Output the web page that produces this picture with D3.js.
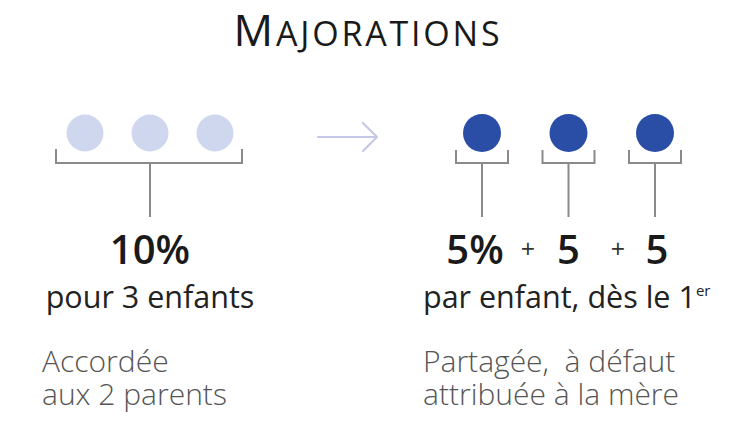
<!DOCTYPE html>
<html><head><meta charset="utf-8">
<script src="https://cdn.jsdelivr.net/npm/d3@7"></script>
<style>
html,body{margin:0;padding:0;background:#fff;}
svg{display:block;font-family:"Open Sans",sans-serif;}
</style></head>
<body>
<script>
// ---- data ----
const titleText = "Majorations";
const leftDots = ["enfant 1", "enfant 2", "enfant 3"];
const rightDots = ["enfant 1", "enfant 2", "enfant 3"];
const leftValue = "10%";
const rightValues = ["5%", "5", "5"];
const plusSigns = ["+", "+"];
const leftSubtitle = "pour 3 enfants";
const rightSubtitle = "par enfant, dès le 1";
const rightSup = "er";
const leftNote = ["Accordée", "aux 2 parents"];
const rightNote = ["Partagée,\u00a0 à défaut", "attribuée à la mère"];

const W = 730, H = 422;
const svg = d3.select("body").append("svg").attr("width", W).attr("height", H);

const lightDot = "#cfd7ee", darkDot = "#2a4da6", gray = "#8a8a8a";
const xL = d3.scalePoint().domain(leftDots.map((d,i)=>i)).range([85, 215]);
const xR = d3.scalePoint().domain(rightDots.map((d,i)=>i)).range([482, 655]);
const cy = 133, r = 18.5;

// title
const t = svg.append("text").attr("x", 368).attr("y", 46).attr("text-anchor", "middle")
  .attr("fill", "#1a1a1a").attr("letter-spacing", 2.8).attr("font-weight", 500);
t.append("tspan").attr("font-size", 44).text(titleText[0].toUpperCase());
t.append("tspan").attr("font-size", 34).text(titleText.slice(1).toUpperCase());

// left dots
svg.selectAll("circle.l").data(leftDots).join("circle").attr("class","l")
  .attr("cx", (d,i)=>xL(i)).attr("cy", cy).attr("r", r).attr("fill", lightDot);
// left bracket
const by = 163, btop = 149, stemEnd = 217;
svg.append("path").attr("fill","none").attr("stroke",gray).attr("stroke-width",2)
  .attr("d", `M${xL(0)-29},${btop}V${by}H${xL(2)+27}V${btop}M${xL(1)},${by}V${stemEnd}`);

// arrow
svg.append("path").attr("fill","none").attr("stroke","#c6c9e6").attr("stroke-width",2.2)
  .attr("stroke-linecap","round").attr("stroke-linejoin","round")
  .attr("d","M318,137H377M363,123L377,137L363,151");

// right dots
svg.selectAll("circle.r").data(rightDots).join("circle").attr("class","r")
  .attr("cx", (d,i)=>xR(i)).attr("cy", cy).attr("r", r+0.5).attr("fill", darkDot);
svg.selectAll("path.rb").data(rightDots).join("path").attr("class","rb")
  .attr("fill","none").attr("stroke",gray).attr("stroke-width",2)
  .attr("d",(d,i)=>{const x=xR(i);return `M${x-26},${btop+1}V${by}H${x+26}V${btop+1}M${x},${by}V${stemEnd}`;});

// values
svg.append("text").attr("x", xL(1)).attr("y", 264).attr("text-anchor","middle")
  .attr("font-size", 40).attr("font-weight", 600).attr("fill","#1a1a1a").text(leftValue);
const valOffset = [-7, 0, 2];
svg.selectAll("text.rv").data(rightValues).join("text").attr("class","rv")
  .attr("x",(d,i)=>xR(i)+valOffset[i]).attr("y",264).attr("text-anchor","middle")
  .attr("font-size",40).attr("font-weight",600).attr("fill","#1a1a1a").text(d=>d);
// plus signs
const plusX = [528, 618];
svg.selectAll("text.plus").data(plusSigns).join("text").attr("class","plus")
  .attr("x",(d,i)=>plusX[i]).attr("y", 258).attr("text-anchor","middle")
  .attr("font-size", 25).attr("fill","#333").text(d=>d);

// subtitles
svg.append("text").attr("x", xL(1)).attr("y", 308).attr("text-anchor","middle")
  .attr("font-size", 30.5).attr("fill","#222").text(leftSubtitle);
const rs = svg.append("text").attr("x", 423).attr("y", 308)
  .attr("font-size", 30.5).attr("fill","#222");
rs.append("tspan").text(rightSubtitle);
rs.append("tspan").attr("font-size", 15).attr("dy", -12).text(rightSup);

// notes
const nL = svg.append("text").attr("font-size", 30).attr("font-weight", 300).attr("fill","#555");
nL.selectAll("tspan").data(leftNote).join("tspan").attr("x", 42).attr("y",(d,i)=>372+i*33).text(d=>d);
const nR = svg.append("text").attr("font-size", 30).attr("font-weight", 300).attr("fill","#555");
nR.selectAll("tspan").data(rightNote).join("tspan").attr("x", 423).attr("y",(d,i)=>372+i*33).text(d=>d);
</script>
</body></html>
